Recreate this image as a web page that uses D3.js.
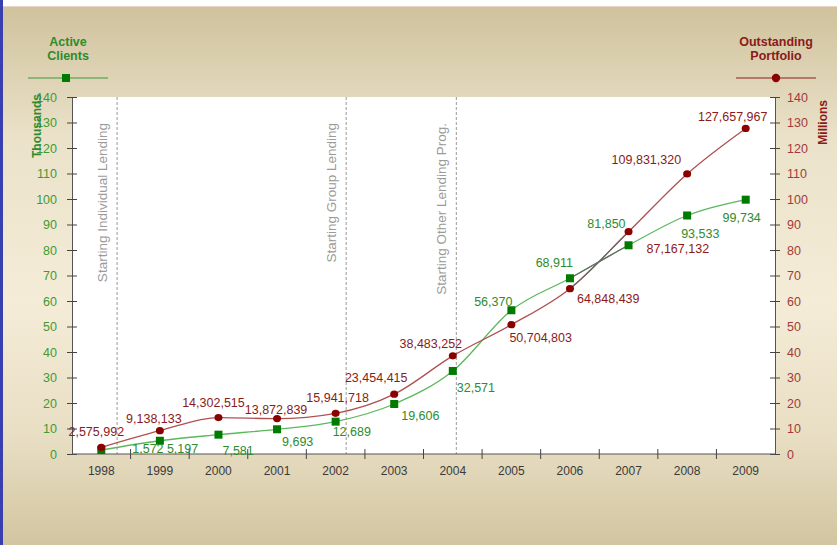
<!DOCTYPE html>
<html>
  <head>
    <script src="https://d3js.org/d3.v7.min.js"></script>
    <style>
      body { margin: 0; background: #fff; }
      text { font-family: Arial, "Liberation Sans", sans-serif; }
    </style>
  </head>
  <body>
    <script>
      const width = 837;
      const height = 545;

      // data
      const years = ["1998","1999","2000","2001","2002","2003","2004","2005","2006","2007","2008","2009"];
      const clients = [1572, 5197, 7581, 9693, 12689, 19606, 32571, 56370, 68911, 81850, 93533, 99734];
      const portfolio = [2575992, 9138133, 14302515, 13872839, 15941718, 23454415, 38483252, 50704803, 64848439, 87167132, 109831320, 127657967];
      const yTicks = [0,10,20,30,40,50,60,70,80,90,100,110,120,130,140];
      const markers = [
        {year: 1998.27, text: "Starting Individual Lending"},
        {year: 2002.18, text: "Starting Group Lending"},
        {year: 2004.06, text: "Starting Other Lending Prog."}
      ];

      // label offsets from each point: [dx, dy, anchor]
      const clientLabelOffsets = [
        [31, 3, "start"], [7, 12, "start"], [4, 20, "start"], [5, 17, "start"],
        [-3, 14, "start"], [7, 16, "start"], [4, 21, "start"], [1, -4, "end"],
        [3, -11, "end"], [-3, -17, "end"], [-6, 23, "start"], [-4, 22, "middle"]
      ];
      const portLabelOffsets = [
        [-5, -11, "middle"], [-6, -8, "middle"], [-5, -11, "middle"], [-1, -5, "middle"],
        [2, -11, "middle"], [-18, -12, "middle"], [-22, -8, "middle"], [-2, 17, "start"],
        [7, 14, "start"], [18, 21, "start"], [-6, -10, "end"], [-13, -7, "middle"]
      ];

      const margin = {left: 72, right: 62, top: 97, bottom: 91};
      const plotW = width - margin.left - margin.right;
      const plotH = height - margin.top - margin.bottom;

      const svg = d3.select("body").append("svg")
        .attr("width", width).attr("height", height);

      const defs = svg.append("defs");
      const grad = defs.append("linearGradient").attr("id", "bg")
        .attr("x1", 0).attr("y1", 0).attr("x2", 0).attr("y2", 1);
      grad.append("stop").attr("offset", "0%").attr("stop-color", "#cfc29c");
      grad.append("stop").attr("offset", "25%").attr("stop-color", "#ebe2ca");
      grad.append("stop").attr("offset", "55%").attr("stop-color", "#f5ecd8");
      grad.append("stop").attr("offset", "80%").attr("stop-color", "#e8dec3");
      grad.append("stop").attr("offset", "100%").attr("stop-color", "#d2c5a0");

      svg.append("rect").attr("x", 0).attr("y", 6).attr("width", width).attr("height", height - 6)
        .attr("fill", "url(#bg)");
      svg.append("rect").attr("x", 0).attr("y", 6).attr("width", width).attr("height", 1)
        .attr("fill", "#e8d6c8");
      svg.append("rect").attr("x", 0).attr("y", 0).attr("width", 3).attr("height", height)
        .attr("fill", "#3a3fb0");

      const x = d3.scaleBand().domain(years).range([margin.left, margin.left + plotW]);
      const xc = d => x(d) + x.bandwidth() / 2;
      const xYear = v => x(years[0]) + (v - +years[0] + 0.5) * x.bandwidth();
      const y = d3.scaleLinear().domain([0, 140]).range([margin.top + plotH, margin.top]);

      svg.append("rect").attr("x", margin.left).attr("y", margin.top)
        .attr("width", plotW).attr("height", plotH).attr("fill", "#fff");

      // annotation lines
      const ann = svg.append("g");
      markers.forEach(m => {
        const px = xYear(m.year);
        ann.append("line").attr("x1", px).attr("x2", px)
          .attr("y1", margin.top).attr("y2", margin.top + plotH)
          .attr("stroke", "#999").attr("stroke-dasharray", "3,2");
        ann.append("text")
          .attr("transform", `translate(${px - 10},${margin.top + 26}) rotate(-90)`)
          .attr("text-anchor", "end")
          .attr("font-size", 13.5).attr("fill", "#9a9a9a")
          .text(m.text);
      });

      // axes
      const leftAxis = d3.axisLeft(y).tickValues(yTicks).tickSizeInner(5).tickSizeOuter(0).tickPadding(10);
      const gl = svg.append("g").attr("transform", `translate(${margin.left},0)`).call(leftAxis);
      gl.selectAll("text").attr("fill", "#3f9a35").attr("font-size", 12.5).attr("font-family", "Arial");
      const rightAxis = d3.axisRight(y).tickValues(yTicks).tickSizeInner(5).tickSizeOuter(0).tickPadding(7);
      const gr = svg.append("g").attr("transform", `translate(${margin.left + plotW},0)`).call(rightAxis);
      gr.selectAll("text").attr("fill", "#a33a3a").attr("font-size", 12.5).attr("font-family", "Arial");
      [gl, gr].forEach(g => {
        g.select(".domain").attr("stroke", "#555");
        g.selectAll(".tick line").attr("stroke", "#444").attr("x1", -5).attr("x2", 5);
      });

      const bottom = svg.append("g").attr("transform", `translate(0,${margin.top + plotH})`);
      bottom.append("line").attr("x1", margin.left).attr("x2", margin.left + plotW)
        .attr("stroke", "#555");
      bottom.selectAll("line.tk").data(years.slice(1)).join("line").attr("class", "tk")
        .attr("x1", d => x(d)).attr("x2", d => x(d)).attr("y1", -5).attr("y2", 5)
        .attr("stroke", "#444");
      bottom.selectAll("text").data(years).join("text")
        .attr("x", d => xc(d)).attr("y", 21).attr("text-anchor", "middle")
        .attr("font-size", 12).attr("fill", "#3a3a3a").text(d => d);

      // axis titles
      svg.append("text").attr("transform", `translate(41,94) rotate(-90)`)
        .attr("text-anchor", "end").attr("font-weight", "bold").attr("font-size", 12)
        .attr("fill", "#2e8b2e").text("Thousands");
      svg.append("text").attr("transform", `translate(827,100) rotate(-90)`)
        .attr("text-anchor", "end").attr("font-weight", "bold").attr("font-size", 12)
        .attr("fill", "#8b1a1a").text("Millions");

      // legends
      const legends = [
        {cx: 68, lines: ["Active", "Clients"], color: "#2e8b2e", line: "#3a9a3a", shape: "square"},
        {cx: 776, lines: ["Outstanding", "Portfolio"], color: "#8b1a1a", line: "#8b2020", shape: "circle"}
      ];
      legends.forEach(l => {
        const g = svg.append("g");
        l.lines.forEach((t, i) => g.append("text").attr("x", l.cx).attr("y", 46 + i * 14)
          .attr("text-anchor", "middle").attr("font-weight", "bold").attr("font-size", 12.5)
          .attr("fill", l.color).text(t));
        g.append("line").attr("x1", l.cx - 40).attr("x2", l.cx + 40).attr("y1", 78).attr("y2", 78)
          .attr("stroke", l.line).attr("stroke-width", 1.2);
        if (l.shape === "square") {
          g.append("rect").attr("x", l.cx - 6).attr("y", 74).attr("width", 8).attr("height", 8).attr("fill", "#007a00");
        } else {
          g.append("circle").attr("cx", l.cx).attr("cy", 78).attr("r", 4.2).attr("fill", "#8b0000");
        }
      });

      // series
      const series = [
        {vals: clients.map(v => v / 1000), raw: clients, offs: clientLabelOffsets, line: "#5cb85c", mark: "#007a00", label: "#2e8b2e", shape: "square"},
        {vals: portfolio.map(v => v / 1e6), raw: portfolio, offs: portLabelOffsets, line: "#b05050", mark: "#8b0000", label: "#8b1a1a", shape: "circle"}
      ];
      const lineGen = d3.line().x((d, i) => xc(years[i])).y(d => y(d)).curve(d3.curveMonotoneX);

      defs.append("clipPath").attr("id", "cross").append("rect")
        .attr("x", xc("2006")).attr("y", margin.top).attr("width", xc("2007") - xc("2006")).attr("height", plotH);

      series.forEach(s => {
        svg.append("path").datum(s.vals).attr("d", lineGen)
          .attr("fill", "none").attr("stroke", s.line).attr("stroke-width", 1.3);
      });
      series.forEach(s => {
        svg.append("path").datum(s.vals).attr("d", lineGen).attr("clip-path", "url(#cross)")
          .attr("fill", "none").attr("stroke", "#6a6a6a").attr("stroke-width", 1.3);
      });

      series.forEach(s => {
        const g = svg.append("g");
        if (s.shape === "square") {
          g.selectAll("rect").data(s.vals).join("rect")
            .attr("x", (d, i) => xc(years[i]) - 4).attr("y", d => y(d) - 4)
            .attr("width", 8).attr("height", 8).attr("fill", s.mark);
        } else {
          g.selectAll("ellipse").data(s.vals).join("ellipse")
            .attr("cx", (d, i) => xc(years[i])).attr("cy", d => y(d))
            .attr("rx", 4).attr("ry", 3.6).attr("fill", s.mark);
        }
      });

      series.forEach(s => {
        svg.append("g").selectAll("text").data(s.vals).join("text")
          .attr("x", (d, i) => xc(years[i]) + s.offs[i][0])
          .attr("y", (d, i) => y(d) + s.offs[i][1])
          .attr("text-anchor", (d, i) => s.offs[i][2])
          .attr("font-size", 12.5).attr("fill", s.label)
          .text((d, i) => d3.format(",")(s.raw[i]));
      });
    </script>
  </body>
</html>
